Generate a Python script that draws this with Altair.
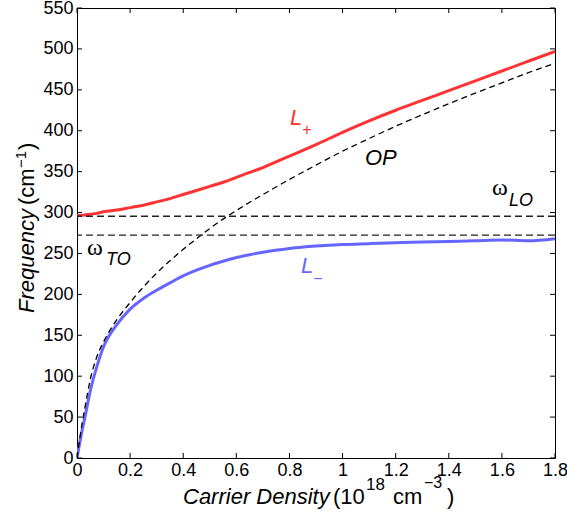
import altair as alt
import pandas as pd

# ---- data ----
x_vals = [0, 0.01, 0.02, 0.03, 0.05, 0.075, 0.1, 0.15, 0.2, 0.25, 0.3, 0.35, 0.4, 0.45,
          0.5, 0.55, 0.6, 0.65, 0.7, 0.8, 0.9, 1.0, 1.1, 1.2, 1.3, 1.4, 1.5, 1.6, 1.7, 1.8]
op_vals = [0, 23, 44, 62, 96, 124, 142, 169, 190, 209, 226, 241, 255, 268, 280.5,
           292, 302.5, 312.5, 322, 340.5, 358, 375, 390.5, 405.5, 419.5, 433, 446, 458.5,
           471, 482.5]
lplus_vals = [296.5, 296.5, 296.6, 297, 298, 299, 301, 303, 306, 309, 313, 317, 322, 327,
              332, 337, 343, 349, 355, 369, 383, 398, 412, 425, 437, 449, 461, 473, 485, 497]
lminus_vals = [0, 18, 35, 50, 82, 112, 136, 163, 182, 195, 205, 214, 222.5, 229.5,
               235.5, 240.5, 245, 248.5, 251.5, 256, 259, 261, 262, 263, 264, 264.5, 265.5,
               266.5, 265.5, 268]
omega_levels = [295.5, 272.5]   # omega_LO, omega_TO
x_ticks = [0, 0.2, 0.4, 0.6, 0.8, 1.0, 1.2, 1.4, 1.6, 1.8]
y_ticks = list(range(0, 551, 50))

W, H = 478, 450
PL, PT = 77, 8
FONT = "Liberation Sans"

df = pd.DataFrame({"x": x_vals, "OP": op_vals, "Lp": lplus_vals, "Lm": lminus_vals})
xs = alt.Scale(domain=[0, 1.8], nice=False, zero=False)
ys = alt.Scale(domain=[0, 550], nice=False)

x_axis = alt.Axis(values=x_ticks, labelExpr="'' + round(datum.value*10)/10", ticks=False,
                  domain=False, grid=False, labelFont=FONT, labelFontSize=18,
                  labelColor="black", labelPadding=3, labelFlush=False, labelOverlap=False,
                  title=None)
y_axis = alt.Axis(values=y_ticks, ticks=False, domain=False, grid=False, labelFont=FONT,
                  labelFontSize=18, labelColor="black", labelPadding=4, labelFlush=False,
                  labelOverlap=False, title=None)


def X(f):
    return alt.X(f, scale=xs, axis=x_axis, title=None)


def Y(f):
    return alt.Y(f, scale=ys, axis=y_axis, title=None)


base = alt.Chart(df)
red = base.mark_line(color="#ff3333", strokeWidth=3, clip=True, interpolate="monotone").encode(
    x=X("x:Q"), y=Y("Lp:Q"))
blue = base.mark_line(color="#6666ff", strokeWidth=3, clip=True, interpolate="monotone").encode(
    x=X("x:Q"), y=Y("Lm:Q"))
op = base.mark_line(color="black", strokeWidth=1.3, strokeDash=[6, 4], clip=True,
                    interpolate="monotone").encode(x=X("x:Q"), y=Y("OP:Q"))

lv = alt.Chart(pd.DataFrame({"w": omega_levels})).mark_rule(
    color="#222222", strokeWidth=1.3, strokeDash=[7, 4]).encode(y=Y("w:Q"))

xt = alt.Chart(pd.DataFrame({"t": x_ticks}))
yt = alt.Chart(pd.DataFrame({"t": y_ticks}))
ticks = [
    xt.mark_rule(color="black").encode(x=X("t:Q"), y=alt.value(H - 5), y2=alt.value(H)),
    xt.mark_rule(color="black").encode(x=X("t:Q"), y=alt.value(0), y2=alt.value(5)),
    yt.mark_rule(color="black").encode(y=Y("t:Q"), x=alt.value(0), x2=alt.value(5)),
    yt.mark_rule(color="black").encode(y=Y("t:Q"), x=alt.value(W - 5), x2=alt.value(W)),
]


def txt(s, px, py, size, style="normal", color="black", font=FONT, align="left",
        baseline="alphabetic", angle=0):
    kw = dict(font=font, fontSize=size, fontStyle=style, color=color, align=align,
              baseline=baseline)
    if angle:
        kw["angle"] = angle
    return alt.Chart(pd.DataFrame({"s": [s]})).mark_text(**kw).encode(
        x=alt.value(px - PL), y=alt.value(py - PT), text="s:N")


texts = [
    # x-axis title
    txt("Carrier Density", 183, 504, 22, "italic"),
    txt("(10", 333, 504, 22),
    txt("18", 366, 490, 17),
    txt("cm", 393, 504, 22),
    txt("\u22123", 424, 488, 16),
    txt(")", 447, 504, 22),
    # y-axis title (rotated)
    txt("Frequency", 34, 313, 22, "italic", angle=270),
    txt("(cm", 34, 205, 22, angle=270),
    txt("\u22121", 26, 168, 15, angle=270),
    txt(")", 34, 150, 22, angle=270),
    # curve labels
    txt("L", 290, 125, 22, "italic", color="#ff3333"),
    txt("+", 307, 130, 16, color="#ff3333", align="center", baseline="middle"),
    txt("OP", 365, 165, 22, "italic"),
    txt("\u03c9", 492, 195, 24, font="Liberation Serif"),
    txt("LO", 509, 206, 18, "italic"),
    txt("\u03c9", 87, 255, 24, font="Liberation Serif"),
    txt("TO", 106, 265, 18, "italic"),
    txt("L", 301, 273, 22, "italic", color="#6666ff"),
    txt("\u2212", 318, 279, 16, color="#6666ff", align="center", baseline="middle"),
]

chart = alt.layer(red, blue, op, lv, *ticks, *texts).properties(
    width=W, height=H,
    autosize=alt.AutoSizeParams(type="none"),
    padding={"left": PL, "top": PT, "right": 567 - PL - W, "bottom": 519 - PT - H},
    background="white",
).configure_view(stroke="black", strokeWidth=1)

chart.save("out.html", embed_options={"renderer": "svg", "actions": False})
